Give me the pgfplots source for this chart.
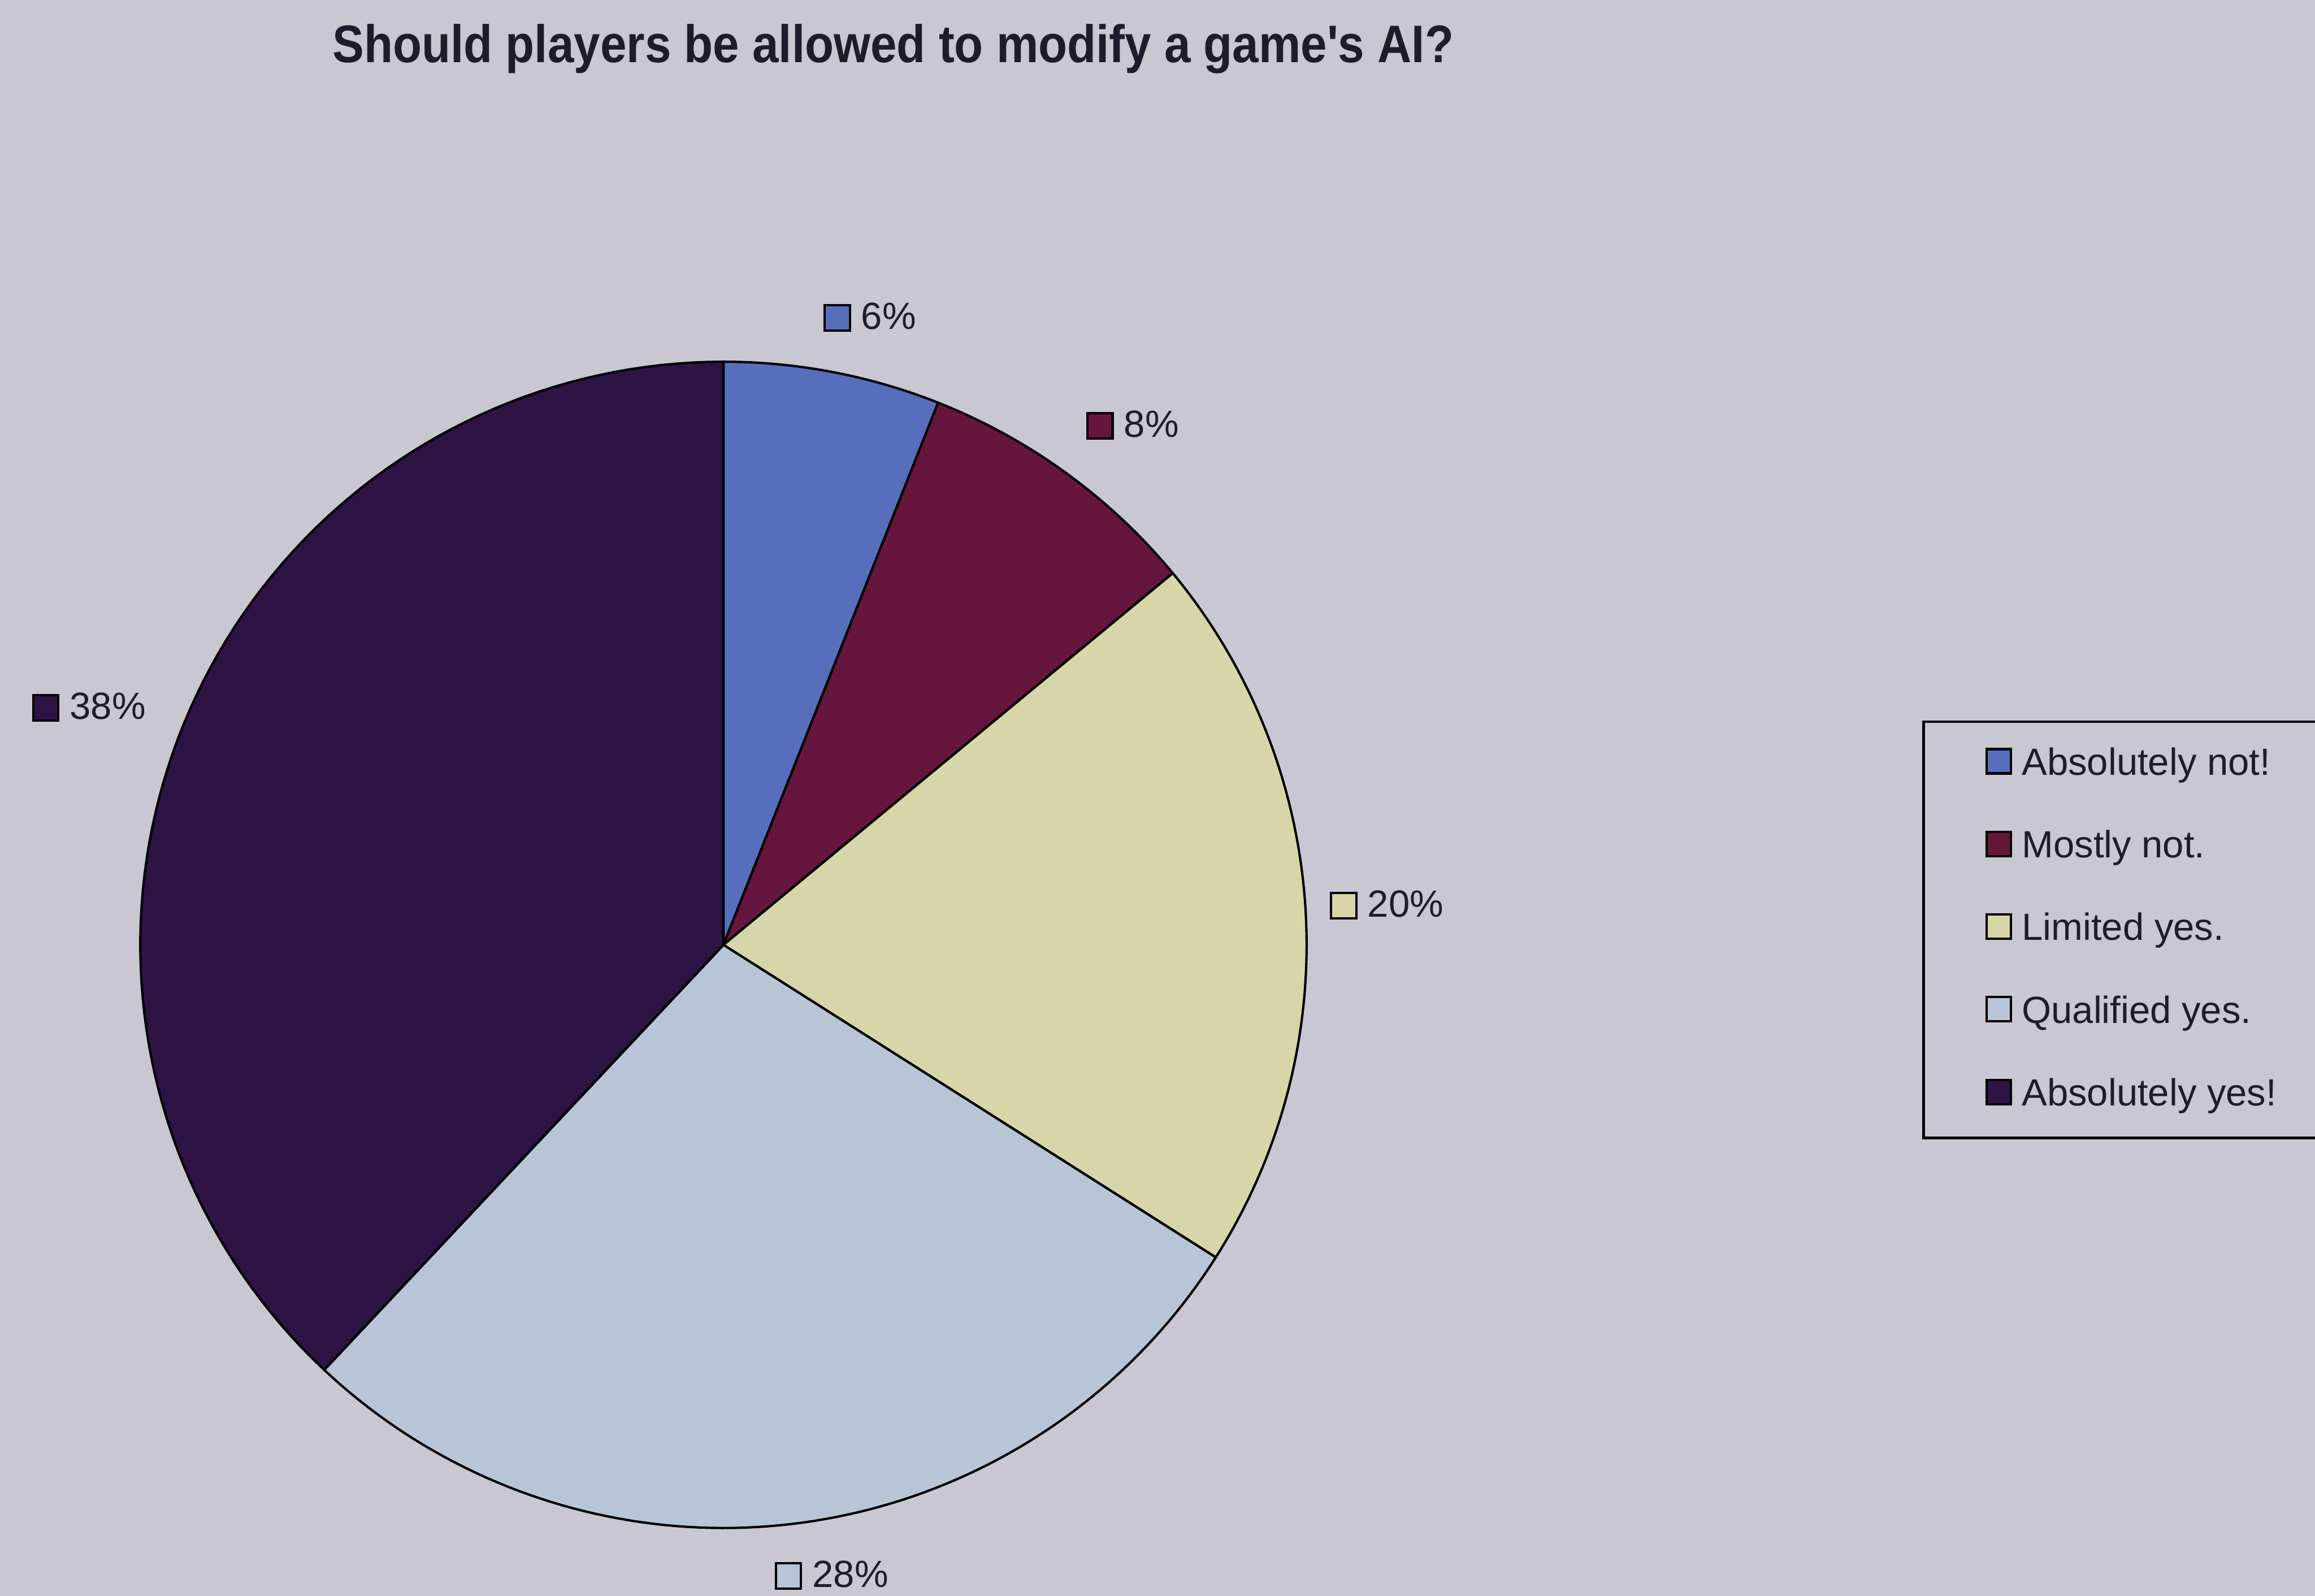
\documentclass[border=0pt]{standalone}
\usepackage{pgfplots}
\pgfplotsset{compat=1.18}
\usepackage{fontspec}
\setmainfont{Liberation Sans}
\newfontfamily\titlefont{Liberation Sans}
\definecolor{bg}{RGB}{201,199,209}
\definecolor{cA}{RGB}{86,110,188}
\definecolor{cB}{RGB}{102,22,60}
\definecolor{cC}{RGB}{214,214,168}
\definecolor{cD}{RGB}{184,197,215}
\definecolor{cE}{RGB}{45,20,68}
\definecolor{ink}{RGB}{28,28,45}
\newcommand{\lblfont}{\fontsize{7.3}{8.8}\selectfont}
\newcommand{\sq}[1]{{\setlength{\fboxrule}{0.45pt}\setlength{\fboxsep}{0pt}\raisebox{0.0cm}{\fcolorbox{black}{#1}{\makebox[0.155cm]{\rule{0pt}{0.155cm}}}}}}
% percentages
\def\pA{6}\def\pB{8}\def\pC{20}\def\pD{28}\def\pE{38}
\pgfmathsetmacro\aA{90}
\pgfmathsetmacro\aB{\aA-3.6*\pA}
\pgfmathsetmacro\aC{\aB-3.6*\pB}
\pgfmathsetmacro\aD{\aC-3.6*\pC}
\pgfmathsetmacro\aE{\aD-3.6*\pD}
\pgfmathsetmacro\aF{\aE-3.6*\pE}
\def\cx{490}\def\cy{441}\def\R{395}
\begin{document}
\begin{tikzpicture}
\begin{axis}[
  scale only axis, width=15.68cm, height=10.81cm,
  xmin=0, xmax=1568, ymin=0, ymax=1081,
  axis lines=none, clip=false,
  axis background/.style={fill=bg},
  every axis plot/.append style={draw=black, line width=0.45pt, samples=90, variable=\t},
  legend cell align=left,
  legend image code/.code={\draw[#1, draw=black, line width=0.45pt] (0cm,0.01cm) rectangle (0.165cm,0.175cm);},
  legend style={at={(axis cs:1302,593)}, anchor=north west, draw=black, line width=0.5pt, fill=none,
    inner xsep=0.42cm, inner ysep=0.17cm, row sep=0.32cm, column sep=0.065cm,
    font=\lblfont\color{ink},
    nodes={inner sep=0pt, text height=0.19cm, text depth=0.05cm, anchor=base west}},
]
\coordinate (BL) at (rel axis cs:0,0);
\coordinate (TR) at (rel axis cs:1,1);
\addplot[fill=cA, domain=\aB:\aA] ({\cx+\R*cos(t)}, {\cy+\R*sin(t)}) -- (axis cs:\cx,\cy) -- cycle;
\addlegendentry{Absolutely not!}
\addplot[fill=cB, domain=\aC:\aB] ({\cx+\R*cos(t)}, {\cy+\R*sin(t)}) -- (axis cs:\cx,\cy) -- cycle;
\addlegendentry{Mostly not.}
\addplot[fill=cC, domain=\aD:\aC] ({\cx+\R*cos(t)}, {\cy+\R*sin(t)}) -- (axis cs:\cx,\cy) -- cycle;
\addlegendentry{Limited yes.}
\addplot[fill=cD, domain=\aE:\aD] ({\cx+\R*cos(t)}, {\cy+\R*sin(t)}) -- (axis cs:\cx,\cy) -- cycle;
\addlegendentry{Qualified yes.}
\addplot[fill=cE, domain=\aF:\aE] ({\cx+\R*cos(t)}, {\cy+\R*sin(t)}) -- (axis cs:\cx,\cy) -- cycle;
\addlegendentry{Absolutely yes!}
% title
\node[font=\titlefont\fontsize{9.1}{11}\selectfont\bfseries, text=ink, inner sep=0pt] at (axis cs:605,1048) {\scalebox{1}[1.12]{Should players be allowed to modify a game's AI?}};
% data labels
\node[anchor=west, inner sep=0pt, font=\lblfont, text=ink] at (axis cs:557,866) {\sq{cA}\hspace{0.07cm}\pA\%};
\node[anchor=west, inner sep=0pt, font=\lblfont, text=ink] at (axis cs:735,793) {\sq{cB}\hspace{0.07cm}\pB\%};
\node[anchor=west, inner sep=0pt, font=\lblfont, text=ink] at (axis cs:900,468) {\sq{cC}\hspace{0.07cm}\pC\%};
\node[anchor=west, inner sep=0pt, font=\lblfont, text=ink] at (axis cs:524,14) {\sq{cD}\hspace{0.07cm}\pD\%};
\node[anchor=west, inner sep=0pt, font=\lblfont, text=ink] at (axis cs:21,602) {\sq{cE}\hspace{0.07cm}\pE\%};
\end{axis}
\pgfresetboundingbox
\path[use as bounding box] (BL) rectangle (TR);
\end{tikzpicture}
\end{document}
